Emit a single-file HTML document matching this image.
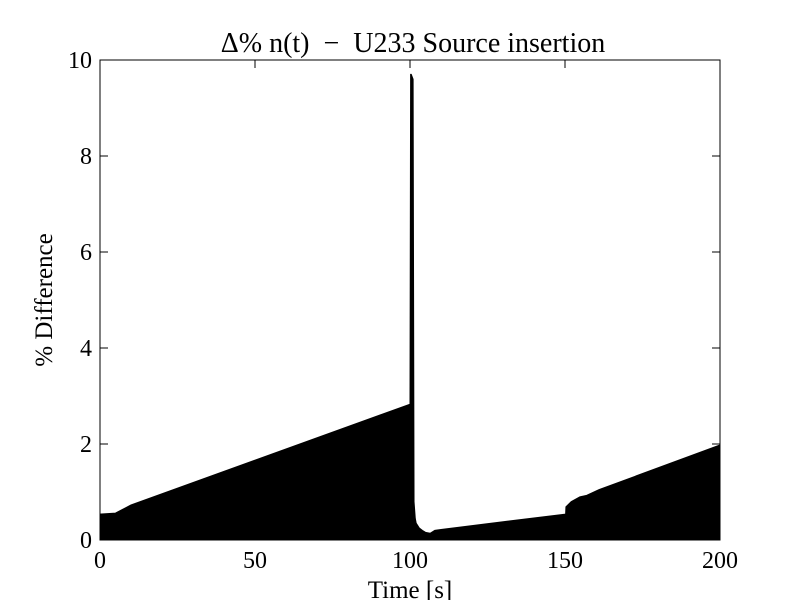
<!DOCTYPE html>
<html><head><meta charset="utf-8"><style>
body{margin:0;background:#fff}
svg text{font-family:"Liberation Serif",serif;fill:#000}
</style></head><body>
<svg id="c" width="800" height="600" xmlns="http://www.w3.org/2000/svg"></svg>
<script>
const xTicks=[0,50,100,150,200];
const yTicks=[0,2,4,6,8,10];
const times=[0,5,10,100,100.2,100.4,101,101.3,101.7,102,103,104,105,106.5,108,110,150.2,150.3,152,154.8,157,161,200];
const values=[0.54,0.56,0.73,2.83,9.7,9.7,9.6,0.8,0.45,0.35,0.25,0.2,0.16,0.14,0.2,0.22,0.54,0.69,0.8,0.9,0.93,1.05,1.98];
const NS="http://www.w3.org/2000/svg";
const svg=document.getElementById('c');
const L=100,R=720,T=60,B=540;
const xs=v=>L+(v-0)/(200-0)*(R-L);
const ys=v=>B-(v-0)/(10-0)*(B-T);
function mk(tag,attrs,parent){const e=document.createElementNS(NS,tag);for(const k in attrs)e.setAttribute(k,attrs[k]);(parent||svg).appendChild(e);return e;}
let d='M'+xs(times[0])+','+ys(0);
for(let i=0;i<times.length;i++)d+=' L'+xs(times[i])+','+ys(values[i]);
d+=' L'+xs(times[times.length-1])+','+ys(0)+' Z';
const area=mk('path',{d:d,fill:'#000',stroke:'#000','stroke-width':1});


const frame=mk('rect',{x:L,y:T,width:R-L,height:B-T,fill:'none',stroke:'#000','stroke-width':1});


xTicks.forEach(v=>{
  const x=xs(v);
  mk('line',{x1:x,x2:x,y1:B,y2:B-8,stroke:'#000'});
  mk('line',{x1:x,x2:x,y1:T,y2:T+8,stroke:'#000'});
  const t=mk('text',{x:x,y:B+28,'font-size':24,'text-anchor':'middle'});
  t.textContent=v;
  
  
});
yTicks.forEach(v=>{
  const y=ys(v);
  mk('line',{x1:L,x2:L+8,y1:y,y2:y,stroke:'#000'});
  mk('line',{x1:R,x2:R-8,y1:y,y2:y,stroke:'#000'});
  const t=mk('text',{x:L-8,y:y+8,'font-size':24,'text-anchor':'end'});
  t.textContent=v;
  
  
});
const title=mk('text',{x:413,y:52,'font-size':28,'text-anchor':'middle'});
title.textContent='Δ% n(t)\u00a0\u00a0−\u00a0\u00a0U233 Source insertion';


const xl=mk('text',{x:410,y:598,'font-size':25,'text-anchor':'middle'});
xl.textContent='Time [s]';


const yl=mk('text',{x:0,y:0,'font-size':25,'text-anchor':'middle',transform:'translate(52,300) rotate(-90)'});
yl.textContent='% Difference';


</script>
</body></html>
